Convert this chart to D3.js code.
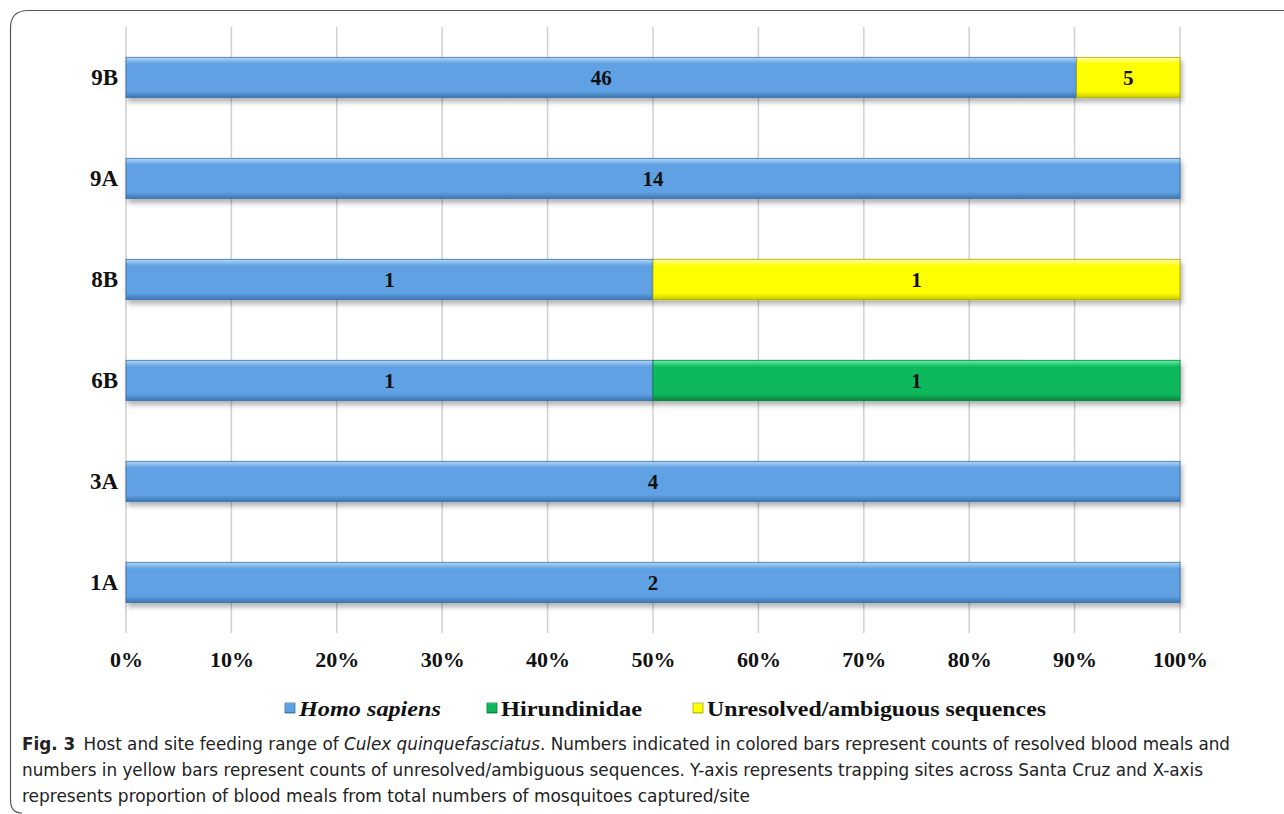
<!DOCTYPE html>
<html><head><meta charset="utf-8">
<script src="https://cdn.jsdelivr.net/npm/d3@7"></script>
<style>
html,body{margin:0;padding:0;background:#fff;}
svg{display:block;}
</style></head>
<body>
<svg id="chart" width="1284" height="814"></svg>
<script>
const sites = ["9B","9A","8B","6B","3A","1A"];
const homoSapiens = [46,14,1,1,4,2];
const hirundinidae = [0,0,0,1,0,0];
const unresolved = [5,0,1,0,0,0];
const seriesNames = ["Homo sapiens","Hirundinidae","Unresolved/ambiguous sequences"];
const tickValues = [0,0.1,0.2,0.3,0.4,0.5,0.6,0.7,0.8,0.9,1.0];
const captionLines = [
  "Host and site feeding range of ",
  "numbers in yellow bars represent counts of unresolved/ambiguous sequences. Y-axis represents trapping sites across Santa Cruz and X-axis",
  "represents proportion of blood meals from total numbers of mosquitoes captured/site"
];

const svg = d3.select("#chart");
const defs = svg.append("defs");
const serif = "'Liberation Serif','Times New Roman',serif";
const capFont = "'DejaVu Sans Condensed','Open Sans',sans-serif";

// frame
svg.append("path")
  .attr("d","M1284,10.5 L28,10.5 Q10.5,10.5 10.5,28 L10.5,800 Q10.5,813 22,813")
  .attr("fill","none").attr("stroke","#555").attr("stroke-width",1.2);

const x = d3.scaleLinear().domain([0,1]).range([126,1180]);
const y = d3.scaleBand().domain(sites).range([27,633]).paddingInner(0.6).paddingOuter(0.3);

// gradients
const colors = [
  {id:"g0", top:"#b3d8f8", mid:"#5ea1e3", bot:"#3a74b0", stroke:"#3b6fa5"},
  {id:"g1", top:"#66f2a8", mid:"#0bb95b", bot:"#067d3c", stroke:"#07803e"},
  {id:"g2", top:"#ffffa8", mid:"#ffff00", bot:"#c9c900", stroke:"#a8a800"}
];
colors.forEach(c=>{
  const g = defs.append("linearGradient").attr("id",c.id).attr("x1",0).attr("y1",0).attr("x2",0).attr("y2",1);
  g.append("stop").attr("offset","0%").attr("stop-color",c.top);
  g.append("stop").attr("offset","16%").attr("stop-color",c.mid);
  g.append("stop").attr("offset","84%").attr("stop-color",c.mid);
  g.append("stop").attr("offset","100%").attr("stop-color",c.bot);
});
const f = defs.append("filter").attr("id","shadow").attr("x","-5%").attr("y","-20%").attr("width","110%").attr("height","160%");
f.append("feDropShadow").attr("dx",2).attr("dy",4).attr("stdDeviation",2.5).attr("flood-color","#000").attr("flood-opacity",0.3);

// gridlines
svg.append("g").selectAll("line").data(tickValues).join("line")
  .attr("x1",d=>x(d)).attr("x2",d=>x(d)).attr("y1",27).attr("y2",633)
  .attr("stroke","#d0d0d0").attr("stroke-width",1.5);

// stacked data
const rows = sites.map((s,i)=>({site:s, v:[homoSapiens[i],hirundinidae[i],unresolved[i]]}));
const segs = [];
rows.forEach(r=>{
  const tot = d3.sum(r.v);
  let acc = 0;
  r.v.forEach((v,k)=>{
    if(v>0){ segs.push({site:r.site,k,v,x0:acc/tot,x1:(acc+v)/tot}); }
    acc += v;
  });
});

const bars = svg.append("g");
bars.selectAll("rect").data(segs).join("rect")
  .attr("x",d=>x(d.x0)).attr("width",d=>x(d.x1)-x(d.x0))
  .attr("y",d=>y(d.site)).attr("height",y.bandwidth())
  .attr("fill",d=>`url(#g${d.k})`)
  .attr("stroke",d=>colors[d.k].stroke).attr("stroke-width",0.8)
  .attr("filter","url(#shadow)");

svg.append("g").selectAll("text").data(segs).join("text")
  .attr("x",d=>(x(d.x0)+x(d.x1))/2).attr("y",d=>y(d.site)+y.bandwidth()/2)
  .attr("dy","0.36em").attr("text-anchor","middle")
  .attr("font-family",serif).attr("font-weight","bold").attr("font-size",21)
  .attr("fill","#111").text(d=>d.v);

// y axis labels
const yAxis = d3.axisLeft(y).tickSize(0).tickPadding(8);
const ya = svg.append("g").attr("transform","translate(126,0)").call(yAxis);
ya.select(".domain").remove();
ya.selectAll("text").attr("font-family",serif).attr("font-weight","bold").attr("font-size",23).attr("fill","#111");

// x axis labels
const xAxis = d3.axisBottom(x).tickValues(tickValues).tickSize(0).tickPadding(0).tickFormat(d3.format(".0%"));
const xa = svg.append("g").attr("transform","translate(0,651)").call(xAxis);
xa.select(".domain").remove();
xa.selectAll("text").attr("font-family",serif).attr("font-weight","bold").attr("font-size",22).attr("fill","#111");

// legend
const legX = [285,487,693];
const legW = [142,141,339];
const leg = svg.append("g").selectAll("g").data(seriesNames).join("g")
  .attr("transform",(d,i)=>`translate(${legX[i]},716)`);
leg.append("rect").attr("x",0).attr("y",-13).attr("width",10).attr("height",10)
  .attr("fill",(d,i)=>`url(#g${i})`).attr("stroke",(d,i)=>colors[i].stroke).attr("stroke-width",0.8);
leg.append("text").attr("x",14).attr("y",0)
  .attr("font-family",serif).attr("font-weight","bold").attr("font-size",21)
  .attr("textLength",(d,i)=>legW[i]).attr("lengthAdjust","spacingAndGlyphs")
  .attr("font-style",(d,i)=>i===0?"italic":"normal").attr("fill","#111").text(d=>d);

// caption
const cap = svg.append("g").attr("font-family",capFont).attr("font-size",17).attr("fill","#222");
const l1 = cap.append("text").attr("x",22).attr("y",750).attr("textLength",1208).attr("lengthAdjust","spacingAndGlyphs");
l1.append("tspan").attr("font-weight","bold").text("Fig. 3");
l1.append("tspan").text("\u2002" + captionLines[0]);
l1.append("tspan").attr("font-style","italic").text("Culex quinquefasciatus");
l1.append("tspan").text(". Numbers indicated in colored bars represent counts of resolved blood meals and");
cap.append("text").attr("x",22).attr("y",776).attr("textLength",1181).attr("lengthAdjust","spacingAndGlyphs").text(captionLines[1]);
cap.append("text").attr("x",22).attr("y",802).attr("textLength",728).attr("lengthAdjust","spacingAndGlyphs").text(captionLines[2]);
</script>
</body></html>
